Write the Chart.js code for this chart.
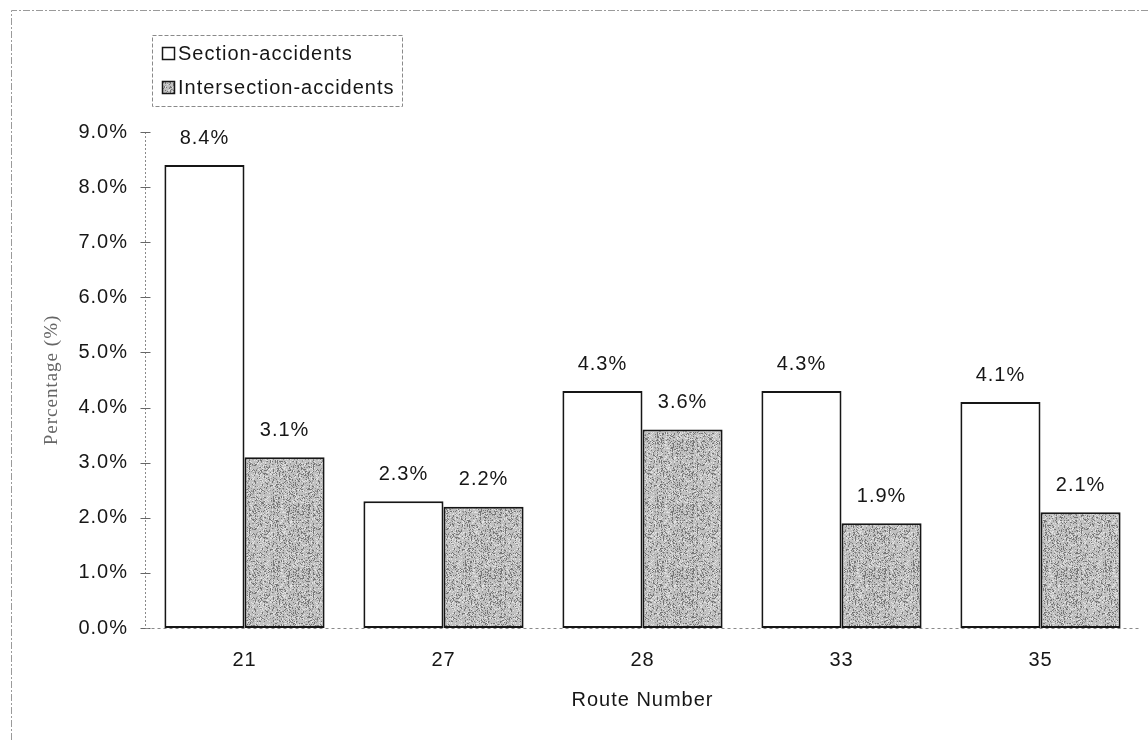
<!DOCTYPE html>
<html>
<head>
<meta charset="utf-8">
<script src="https://cdn.jsdelivr.net/npm/chart.js@4.4.1/dist/chart.umd.min.js"></script>
<style>
  html, body { margin: 0; padding: 0; background: #fff; }
  #wrap { width: 1148px; height: 740px; }
</style>
</head>
<body>
<div id="wrap"><canvas id="chart" width="1148" height="740"></canvas></div>
<script>
// Share of accidents per route
const routes = ['21', '27', '28', '33', '35'];
const sectionAccidents = [8.4, 2.3, 4.3, 4.3, 4.1];
const intersectionAccidents = [3.1, 2.2, 3.6, 1.9, 2.1];
const seriesNames = ['Section-accidents', 'Intersection-accidents'];
const yTickMax = 9;

const FONT = "'Liberation Sans', Arial, sans-serif";
const INK = '#161616';

// Grainy grey fill used for the intersection bars
function makeGrain() {
  const c = document.createElement('canvas');
  c.width = 64; c.height = 64;
  const g = c.getContext('2d');
  const img = g.createImageData(64, 64);
  function hash(x, y) {
    let h = (Math.imul(x, 374761393) + Math.imul(y, 668265263)) >>> 0;
    h = Math.imul(h ^ (h >>> 13), 1274126177) >>> 0;
    return (h ^ (h >>> 16)) >>> 0;
  }
  for (let y = 0; y < 64; y++) {
    for (let x = 0; x < 64; x++) {
      const r = hash(x, y) % 100;
      const streak = (hash(x, 7) % 6 === 0) && (hash(x, (y >> 3)) % 3 === 0);
      let v = 192;
      if (r < 14 || (streak && r < 55)) v = 118;
      else if (r < 30) v = 225;
      else if (r < 36) v = 150;
      const i = (y * 64 + x) * 4;
      img.data[i] = v; img.data[i + 1] = v; img.data[i + 2] = v; img.data[i + 3] = 255;
    }
  }
  g.putImageData(img, 0, 0);
  return g.createPattern(c, 'repeat');
}
const grain = makeGrain();

function spacing(ctx) { try { ctx.letterSpacing = '1px'; } catch (e) {} }

const framePlugin = {
  id: 'frame',
  beforeUpdate(chart) { spacing(chart.ctx); },
  beforeLayout(chart) { spacing(chart.ctx); },
  beforeDraw(chart) {
    const ctx = chart.ctx;
    spacing(ctx);
    ctx.save();
    ctx.strokeStyle = '#9a9a9a';
    ctx.lineWidth = 1;
    ctx.setLineDash([7, 2, 2, 2]);
    ctx.beginPath();
    ctx.moveTo(11.5, 740); ctx.lineTo(11.5, 10.5); ctx.lineTo(1148, 10.5);
    ctx.stroke();
    ctx.restore();
  },
  beforeDatasetsDraw(chart) {
    const ctx = chart.ctx;
    const y = chart.scales.y, x = chart.scales.x;
    const ax = Math.round(x.left) + 0.5;
    ctx.save();
    ctx.strokeStyle = '#8a8a8a';
    ctx.lineWidth = 1;
    ctx.setLineDash([2, 2]);
    ctx.beginPath();
    ctx.moveTo(ax, y.top); ctx.lineTo(ax, y.bottom);
    ctx.stroke();
    ctx.setLineDash([]);
    ctx.strokeStyle = '#666';
    for (let v = 0; v <= yTickMax; v++) {
      const py = Math.round(y.getPixelForValue(v)) + 0.5;
      ctx.beginPath();
      ctx.moveTo(ax - 5, py); ctx.lineTo(ax + 5, py);
      ctx.stroke();
    }
    ctx.strokeStyle = '#8a8a8a';
    ctx.setLineDash([3, 3]);
    const by = Math.round(y.getPixelForValue(0)) + 0.5;
    ctx.beginPath();
    ctx.moveTo(ax, by); ctx.lineTo(x.right, by);
    ctx.stroke();
    ctx.restore();
  },
  afterDatasetsDraw(chart) {
    const ctx = chart.ctx;
    ctx.save();
    spacing(ctx);
    ctx.font = '20px ' + FONT;
    ctx.fillStyle = INK;
    ctx.textAlign = 'center';
    ctx.textBaseline = 'middle';
    chart.data.datasets.forEach((ds, di) => {
      chart.getDatasetMeta(di).data.forEach((el, i) => {
        ctx.fillText(ds.data[i].toFixed(1) + '%', el.x, el.y - 27);
      });
    });
    // legend
    const lx = 152.5, ly = 35.5, lw = 250, lh = 71;
    ctx.strokeStyle = '#8a8a8a';
    ctx.lineWidth = 1;
    ctx.setLineDash([4, 2]);
    ctx.strokeRect(lx, ly, lw, lh);
    ctx.setLineDash([]);
    ctx.textAlign = 'left';
    chart.data.datasets.forEach((ds, di) => {
      const cy = 53 + di * 34;
      ctx.fillStyle = ds.backgroundColor;
      ctx.fillRect(162, cy - 6, 13, 13);
      ctx.strokeStyle = INK;
      ctx.lineWidth = 1.5;
      ctx.strokeRect(162.5, cy - 5.5, 12, 12);
      ctx.fillStyle = INK;
      ctx.fillText(ds.label, 178, cy + 1);
    });
    ctx.restore();
  }
};

new Chart(document.getElementById('chart'), {
  type: 'bar',
  data: {
    labels: routes,
    datasets: [
      { label: seriesNames[0], data: sectionAccidents, backgroundColor: '#ffffff',
        borderColor: INK, borderWidth: 2, borderSkipped: false },
      { label: seriesNames[1], data: intersectionAccidents, backgroundColor: grain,
        borderColor: INK, borderWidth: 2, borderSkipped: false }
    ]
  },
  options: {
    responsive: false,
    animation: false,
    devicePixelRatio: 1,
    layout: { padding: { top: 132, right: 8, left: 0, bottom: 0 } },
    datasets: { bar: { categoryPercentage: 0.805, barPercentage: 1.0 } },
    plugins: { legend: { display: false }, tooltip: { enabled: false } },
    scales: {
      x: {
        grid: { display: false, drawTicks: false },
        border: { display: false },
        ticks: { color: INK, font: { family: FONT, size: 20 }, padding: 20, maxRotation: 0 },
        title: { display: true, text: 'Route Number', color: INK,
                 font: { family: FONT, size: 20 }, padding: { top: 0, bottom: 28 } },
        afterFit(s) { s.height = 112; }
      },
      y: {
        min: 0, max: yTickMax,
        grid: { display: false, drawTicks: false },
        border: { display: false },
        ticks: { stepSize: 1, color: INK, font: { family: FONT, size: 20 }, padding: 17,
                 callback: v => Number(v).toFixed(1) + '%' },
        title: { display: true, text: 'Percentage (%)', color: '#666',
                 font: { family: "'Liberation Serif', 'Times New Roman', serif", size: 19 },
                 padding: { top: 41, bottom: 0 } },
        afterFit(s) { s.width = 145; }
      }
    }
  },
  plugins: [framePlugin]
});
</script>
</body>
</html>
